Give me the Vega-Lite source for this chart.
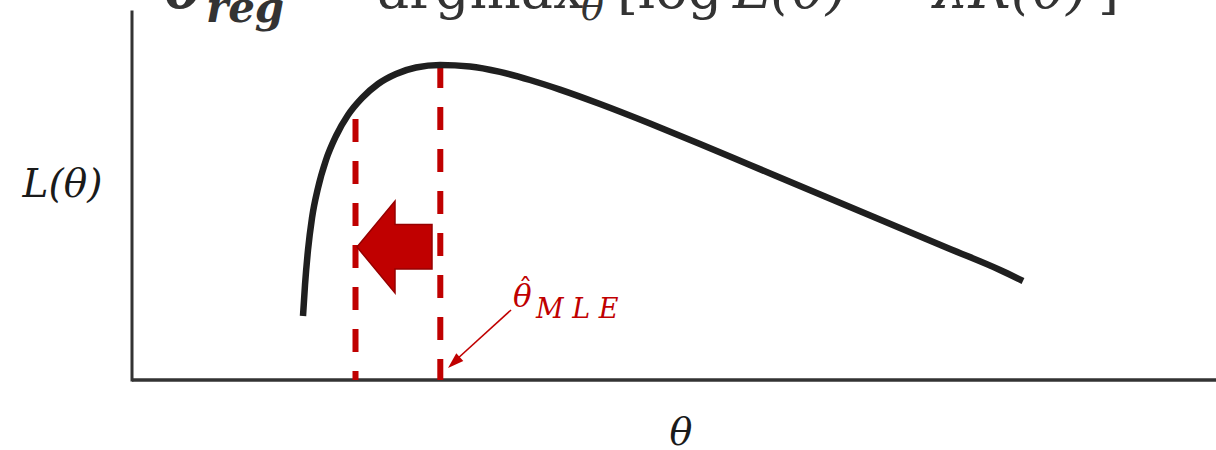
{
  "$schema": "https://vega.github.io/schema/vega-lite/v6.json",
  "width": 1084,
  "height": 380,
  "autosize": {"type": "none"},
  "padding": {"left": 132, "right": 0, "top": 0, "bottom": 70},
  "background": "white",
  "config": {"view": {"stroke": null}},
  "datasets": {
    "curve": [
      {"t": 1.71, "v": 0.64}, {"t": 1.73, "v": 0.95}, {"t": 1.76, "v": 1.30},
      {"t": 1.80, "v": 1.62}, {"t": 1.86, "v": 1.92}, {"t": 1.94, "v": 2.20},
      {"t": 2.04, "v": 2.44}, {"t": 2.16, "v": 2.65}, {"t": 2.30, "v": 2.82},
      {"t": 2.46, "v": 2.96}, {"t": 2.64, "v": 3.06}, {"t": 2.84, "v": 3.125},
      {"t": 3.08, "v": 3.15}, {"t": 3.38, "v": 3.135}, {"t": 3.68, "v": 3.081},
      {"t": 3.98, "v": 3.00}, {"t": 4.28, "v": 2.904}, {"t": 4.68, "v": 2.76},
      {"t": 5.18, "v": 2.565}, {"t": 5.68, "v": 2.36}, {"t": 6.18, "v": 2.15},
      {"t": 6.68, "v": 1.94}, {"t": 7.18, "v": 1.73}, {"t": 7.68, "v": 1.52},
      {"t": 8.18, "v": 1.31}, {"t": 8.68, "v": 1.10}, {"t": 8.91, "v": 0.99}
    ],
    "yaxis": [{"t": 0, "v": 0, "v2": 3.68}],
    "xaxis": [{"t": 0, "t2": 10.84, "v": 0}],
    "bounds": [
      {"name": "regularised", "t": 2.235, "v": 2.61},
      {"name": "mle", "t": 3.083, "v": 3.15}
    ],
    "shift": [{"t": 2.625, "v": 1.33}],
    "pointer": [{"t": 3.79, "v": 0.70, "t2": 3.24, "v2": 0.20}],
    "pointerHead": [{"t": 3.219, "v": 0.174}],
    "mleTheta": [{"t": 3.81, "v": 0.73, "label": "θ"}],
    "mleHat": [{"t": 3.935, "v": 0.82, "label": "ˆ"}],
    "mleSub": [{"t": 4.04, "v": 0.62, "label": "M L E"}],
    "yTitle": [{"t": -0.695, "v": 1.83, "label": "L(θ)"}],
    "xTitle": [{"t": 5.49, "v": -0.645, "label": "θ"}],
    "fBoldMain": [{"t": 0.32, "v": 3.72, "label": "θ"}],
    "fBoldSub": [{"t": 0.74, "v": 3.58, "label": "reg"}],
    "fUpright": [
      {"t": 2.0, "v": 3.72, "label": "="},
      {"t": 2.45, "v": 3.72, "label": "argmax"},
      {"t": 4.85, "v": 3.72, "label": "[log"},
      {"t": 7.45, "v": 3.72, "label": "−"},
      {"t": 9.66, "v": 3.72, "label": "]"}
    ],
    "fItalic": [
      {"t": 6.01, "v": 3.72, "label": "L(θ)"},
      {"t": 8.01, "v": 3.72, "label": "λR(θ)"}
    ],
    "fItalicSub": [{"t": 4.49, "v": 3.60, "label": "θ"}]
  },
  "encoding": {
    "x": {"field": "t", "type": "quantitative", "scale": {"domain": [0, 10.84], "nice": false, "zero": false}, "axis": null},
    "y": {"field": "v", "type": "quantitative", "scale": {"domain": [0, 3.8], "nice": false, "zero": false}, "axis": null}
  },
  "layer": [
    {
      "data": {"name": "yaxis"},
      "mark": {"type": "rule", "stroke": "#333333", "strokeWidth": 3, "strokeCap": "square"},
      "encoding": {"y2": {"field": "v2"}}
    },
    {
      "data": {"name": "xaxis"},
      "mark": {"type": "rule", "stroke": "#333333", "strokeWidth": 3.5},
      "encoding": {"x2": {"field": "t2"}}
    },
    {
      "data": {"name": "bounds"},
      "mark": {"type": "rule", "stroke": "#c00000", "strokeWidth": 6, "strokeDash": [23, 19]},
      "encoding": {"y2": {"datum": 0}}
    },
    {
      "data": {"name": "curve"},
      "mark": {"type": "line", "stroke": "#1f1f1f", "strokeWidth": 6.5, "interpolate": "monotone", "strokeCap": "butt"}
    },
    {
      "data": {"name": "shift"},
      "mark": {
        "type": "point",
        "shape": "M-0.75,0L0.01,-0.92L0.01,-0.45L0.75,-0.45L0.75,0.44L0.01,0.44L0.01,0.92Z",
        "size": 10000,
        "filled": true,
        "fill": "#c00000",
        "fillOpacity": 1,
        "stroke": "#960000",
        "strokeWidth": 1.5,
        "opacity": 1
      }
    },
    {
      "data": {"name": "pointer"},
      "mark": {"type": "rule", "stroke": "#c00000", "strokeWidth": 1.6},
      "encoding": {"x2": {"field": "t2"}, "y2": {"field": "v2"}}
    },
    {
      "data": {"name": "pointerHead"},
      "mark": {
        "type": "point",
        "shape": "M0,-1L0.65,1L-0.65,1Z",
        "size": 256,
        "angle": 227.4,
        "filled": true,
        "fill": "#c00000",
        "fillOpacity": 1,
        "strokeWidth": 0,
        "opacity": 1
      }
    },
    {
      "data": {"name": "mleTheta"},
      "mark": {"type": "text", "font": "DejaVu Serif", "fontStyle": "italic", "fontSize": 31, "fill": "#c00000", "align": "left", "baseline": "alphabetic"},
      "encoding": {"text": {"field": "label"}}
    },
    {
      "data": {"name": "mleHat"},
      "mark": {"type": "text", "font": "DejaVu Serif", "fontSize": 28, "fill": "#c00000", "align": "center", "baseline": "alphabetic"},
      "encoding": {"text": {"field": "label"}}
    },
    {
      "data": {"name": "mleSub"},
      "mark": {"type": "text", "font": "DejaVu Serif", "fontStyle": "italic", "fontSize": 27, "fill": "#c00000", "align": "left", "baseline": "alphabetic"},
      "encoding": {"text": {"field": "label"}}
    },
    {
      "data": {"name": "yTitle"},
      "mark": {"type": "text", "font": "DejaVu Serif", "fontStyle": "italic", "fontSize": 39, "fill": "#1a1a1a", "align": "center", "baseline": "alphabetic"},
      "encoding": {"text": {"field": "label"}}
    },
    {
      "data": {"name": "xTitle"},
      "mark": {"type": "text", "font": "DejaVu Serif", "fontStyle": "italic", "fontSize": 38, "fill": "#1a1a1a", "align": "center", "baseline": "alphabetic"},
      "encoding": {"text": {"field": "label"}}
    },
    {
      "data": {"name": "fBoldMain"},
      "mark": {"type": "text", "font": "DejaVu Serif", "fontStyle": "italic", "fontWeight": "bold", "fontSize": 60, "fill": "#333333", "align": "left", "baseline": "alphabetic"},
      "encoding": {"text": {"field": "label"}}
    },
    {
      "data": {"name": "fBoldSub"},
      "mark": {"type": "text", "font": "DejaVu Serif", "fontStyle": "italic", "fontWeight": "bold", "fontSize": 42, "fill": "#333333", "align": "left", "baseline": "alphabetic"},
      "encoding": {"text": {"field": "label"}}
    },
    {
      "data": {"name": "fUpright"},
      "mark": {"type": "text", "font": "DejaVu Serif", "fontSize": 54, "fill": "#333333", "align": "left", "baseline": "alphabetic"},
      "encoding": {"text": {"field": "label"}}
    },
    {
      "data": {"name": "fItalic"},
      "mark": {"type": "text", "font": "DejaVu Serif", "fontStyle": "italic", "fontSize": 56, "fill": "#333333", "align": "left", "baseline": "alphabetic"},
      "encoding": {"text": {"field": "label"}}
    },
    {
      "data": {"name": "fItalicSub"},
      "mark": {"type": "text", "font": "DejaVu Serif", "fontStyle": "italic", "fontSize": 38, "fill": "#333333", "align": "left", "baseline": "alphabetic"},
      "encoding": {"text": {"field": "label"}}
    }
  ]
}
